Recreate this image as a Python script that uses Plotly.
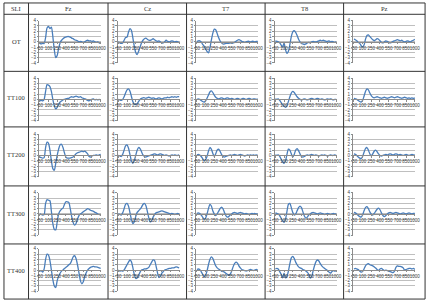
import plotly.graph_objects as go

# time axis (ms)
T = list(range(-50, 1001, 25))

ROWS = ["OT", "TT100", "TT200", "TT300", "TT400"]
COLS = ["Fz", "Cz", "T7", "T8", "Pz"]
CORNER = "SLI"
Y_TICKS = [-4, -3, -2, -1, 0, 1, 2, 3, 4]
X_TICKS = [-50, 100, 250, 400, 550, 700, 850, 1000]

OT_Fz = [-0.3, -0.4, -0.3, -0.3, 0.8, 2.6, 2.9, 2.5, 2.8, 1.0, -1.5, -3.0, -2.6, -1.2, -0.2, 0.3, 0.6, 0.8, 0.9, 1.0, 1.0, 0.9, 0.7, 0.6, 0.4, 0.3, 0.2, 0.0, 0.1, 0.0, -0.1, 0.0, 0.2, 0.3, 0.2, 0.2, 0.1, 0.2, 0.0, -0.1, 0.0, -0.2, -0.3]
OT_Cz = [0.0, -0.2, -0.3, -0.2, 0.3, 0.8, 0.9, 1.8, 2.5, 2.2, 0.8, -0.8, -2.0, -2.4, -1.8, -1.0, -0.2, 0.3, 0.6, 0.7, 0.5, 0.3, 0.3, 0.4, 0.6, 0.4, 0.2, 0.1, 0.2, 0.0, -0.2, -0.2, 0.0, 0.3, 0.1, 0.0, 0.1, 0.2, 0.1, 0.0, 0.1, 0.0, -0.1]
OT_T7 = [0.1, 0.2, 0.2, 0.0, -0.5, -0.8, -1.3, -1.8, -2.1, -1.2, 0.3, 1.6, 2.4, 2.3, 1.6, 0.8, 0.2, -0.2, -0.4, -0.4, -0.3, -0.3, -0.3, -0.2, -0.3, -0.2, -0.1, 0.1, 0.3, 0.4, 0.3, 0.1, 0.0, -0.1, 0.0, 0.1, 0.1, 0.0, 0.1, 0.1, 0.0, 0.1, 0.1]
OT_T8 = [0.2, 0.1, 0.0, -0.2, -0.6, -1.0, -0.2, -1.5, -2.2, -1.8, -0.5, 1.0, 1.9, 2.1, 1.8, 1.2, 0.5, 0.0, -0.3, -0.4, -0.5, -0.4, -0.2, -0.1, -0.2, 0.0, 0.1, 0.0, 0.0, 0.1, 0.2, 0.3, 0.2, 0.3, 0.2, 0.1, 0.1, 0.2, 0.0, 0.1, 0.0, -0.1, 0.0]
OT_Pz = [0.5, 0.4, 0.2, -0.1, -0.3, -0.7, -1.0, -0.6, 0.5, 1.2, 1.3, 1.0, 0.7, 0.4, 0.2, 0.4, 0.6, 0.5, 0.2, -0.1, -0.2, 0.0, 0.2, 0.1, -0.1, -0.2, -0.1, 0.1, 0.2, 0.3, 0.4, 0.3, 0.2, 0.3, 0.1, 0.0, 0.1, 0.2, 0.1, 0.0, 0.2, 0.3, 0.5]

TT100_Fz = [-0.3, -0.2, -0.3, 0.0, 1.5, 2.8, 2.7, 2.4, 1.5, 0.0, -1.2, -1.8, -1.5, -0.9, -0.5, -0.3, -0.1, 0.0, 0.1, 0.2, 0.2, 0.4, 0.5, 0.4, 0.5, 0.6, 0.5, 0.4, 0.5, 0.3, 0.2, 0.1, 0.0, -0.2, -0.3, -0.1, 0.0, 0.1, -0.1, 0.0, -0.1, 0.0, -0.1]
TT100_Cz = [0.0, -0.1, -0.2, 0.0, 0.5, 1.2, 1.8, 2.0, 1.6, 0.6, -0.4, -0.9, -1.0, -0.8, -0.4, 0.0, 0.2, 0.3, 0.3, 0.2, 0.3, 0.4, 0.3, 0.2, 0.3, 0.2, 0.1, 0.2, 0.3, 0.2, 0.1, 0.2, 0.3, 0.3, 0.4, 0.3, 0.4, 0.5, 0.4, 0.5, 0.4, 0.5, 0.5]
TT100_T7 = [0.0, 0.1, 0.0, -0.2, -0.4, -0.5, -0.3, 0.2, 0.8, 1.4, 1.6, 1.3, 0.8, 0.4, 0.2, 0.1, 0.2, 0.3, 0.2, 0.1, 0.2, 0.3, 0.2, 0.1, 0.2, 0.1, 0.0, 0.1, 0.2, 0.1, 0.0, 0.1, 0.2, 0.1, 0.0, 0.1, 0.2, 0.1, 0.0, 0.1, 0.1, 0.0, 0.1]
TT100_T8 = [0.1, 0.0, 0.1, -0.2, -0.6, -1.0, -1.3, -1.5, -1.2, -0.4, 0.5, 1.2, 1.5, 1.3, 0.9, 0.5, 0.2, 0.0, -0.1, 0.0, 0.1, 0.0, -0.1, 0.0, 0.1, 0.2, 0.1, 0.0, 0.1, 0.2, 0.1, 0.0, 0.1, 0.0, -0.1, 0.0, 0.1, 0.0, 0.1, 0.0, -0.1, 0.0, 0.0]
TT100_Pz = [0.2, 0.1, 0.0, -0.2, -0.4, -0.5, -0.2, 0.6, 1.5, 2.0, 1.8, 1.2, 0.7, 0.4, 0.3, 0.4, 0.5, 0.4, 0.3, 0.2, 0.3, 0.4, 0.3, 0.2, 0.3, 0.4, 0.5, 0.4, 0.3, 0.4, 0.5, 0.4, 0.3, 0.2, 0.3, 0.4, 0.3, 0.2, 0.3, 0.2, 0.3, 0.2, 0.3]

TT200_Fz = [-0.3, -0.4, -0.5, -0.4, 1.5, 2.5, 2.3, 1.0, -1.0, -2.5, -2.8, -1.5, 0.0, 1.2, 2.0, 2.1, 1.5, 0.5, -0.3, -0.5, -0.5, -0.5, -0.4, -0.3, 0.0, 0.3, 0.5, 0.6, 0.7, 0.8, 0.7, 0.8, 0.6, 0.3, -0.2, -0.3, -0.1, 0.0, 0.0, 0.1, 0.0, 0.1, 0.2]
TT200_Cz = [0.0, -0.1, -0.2, 0.2, 1.0, 1.8, 2.0, 1.4, 0.2, -1.0, -1.5, -1.0, 0.0, 1.0, 1.5, 1.3, 0.7, 0.1, -0.2, -0.3, -0.2, -0.1, 0.0, 0.1, 0.2, 0.3, 0.2, 0.1, 0.2, 0.3, 0.2, 0.1, 0.0, 0.1, 0.0, -0.1, 0.0, 0.1, 0.0, 0.1, 0.0, 0.0, 0.1]
TT200_T7 = [0.1, 0.2, 0.1, -0.2, -0.6, -1.0, -0.8, -0.2, 0.8, 1.5, 1.2, 0.4, -0.2, 0.3, 1.0, 1.2, 0.8, 0.2, -0.2, -0.3, -0.2, -0.1, 0.0, 0.1, 0.0, 0.1, 0.2, 0.1, 0.0, 0.1, 0.2, 0.1, 0.0, -0.1, 0.0, 0.1, 0.0, 0.1, 0.0, 0.1, 0.0, 0.1, 0.0]
TT200_T8 = [0.1, 0.0, 0.1, -0.2, -0.7, -1.2, -1.5, -1.0, 0.2, 1.2, 1.0, 0.3, -0.3, 0.2, 1.0, 1.3, 0.9, 0.3, -0.2, -0.3, -0.2, 0.0, 0.1, 0.0, 0.1, 0.2, 0.1, 0.0, 0.1, 0.0, -0.1, 0.0, 0.1, 0.0, 0.1, 0.0, -0.1, 0.0, 0.1, 0.0, 0.0, 0.1, 0.0]
TT200_Pz = [0.3, 0.2, 0.0, -0.3, -0.5, -0.6, -0.2, 0.6, 1.3, 1.5, 1.0, 0.3, -0.1, 0.3, 0.8, 1.0, 0.7, 0.3, 0.0, -0.1, 0.0, 0.1, 0.2, 0.1, 0.2, 0.3, 0.2, 0.1, 0.2, 0.3, 0.2, 0.1, 0.2, 0.1, 0.0, 0.1, 0.2, 0.1, 0.0, 0.1, 0.2, 0.1, 0.1]

TT300_Fz = [0.0, -0.1, -0.2, -0.1, 2.0, 2.7, 2.6, 2.5, 0.5, -1.8, -2.9, -3.0, -1.5, 0.0, 0.6, 0.9, 1.1, 1.8, 2.3, 2.3, 2.2, 1.0, -0.5, -1.6, -2.1, -1.8, -1.0, -0.3, 0.0, 0.2, 0.4, 0.6, 0.8, 1.0, 0.9, 0.7, 0.6, 0.5, 0.3, 0.2, 0.0, -0.1, -0.2]
TT300_Cz = [0.0, -0.1, -0.2, 0.2, 1.0, 1.8, 2.0, 1.5, 0.3, -1.0, -1.8, -1.5, -0.5, 0.3, 0.6, 0.9, 1.3, 1.8, 2.0, 1.6, 0.5, -0.7, -1.5, -1.3, -0.6, -0.1, 0.2, 0.3, 0.4, 0.5, 0.6, 0.5, 0.4, 0.3, 0.2, 0.1, 0.0, 0.1, 0.0, -0.1, 0.0, 0.1, 0.0]
TT300_T7 = [0.1, 0.2, 0.1, -0.2, -0.6, -1.0, -0.8, 0.0, 1.0, 1.8, 1.5, 0.6, 0.0, -0.3, 0.0, 0.5, 1.0, 1.3, 1.0, 0.3, -0.3, -0.6, -0.5, -0.2, 0.0, 0.2, 0.3, 0.2, 0.1, 0.2, 0.3, 0.2, 0.1, 0.0, 0.1, 0.0, -0.1, 0.0, 0.1, 0.0, 0.1, 0.0, 0.0]
TT300_T8 = [0.2, 0.1, 0.0, -0.3, -0.8, -1.3, -1.6, -1.0, 0.5, 1.8, 2.0, 1.2, 0.3, -0.2, 0.0, 0.6, 1.2, 1.5, 1.2, 0.4, -0.4, -0.8, -0.6, -0.2, 0.0, 0.2, 0.3, 0.2, 0.1, 0.0, 0.1, 0.2, 0.1, 0.0, -0.1, 0.0, 0.1, 0.0, -0.1, 0.0, 0.1, 0.0, 0.0]
TT300_Pz = [0.3, 0.2, 0.0, -0.3, -0.5, -0.6, -0.2, 0.6, 1.2, 1.4, 1.0, 0.4, 0.0, -0.2, 0.1, 0.5, 0.9, 1.1, 0.8, 0.2, -0.3, -0.5, -0.3, 0.0, 0.2, 0.3, 0.2, 0.1, 0.2, 0.3, 0.2, 0.1, 0.0, 0.1, 0.2, 0.1, 0.0, 0.1, 0.2, 0.1, 0.0, 0.1, 0.1]

TT400_Fz = [-0.2, -0.1, -0.4, 0.2, 2.0, 3.0, 2.8, 1.8, 0.0, -1.8, -3.0, -3.3, -2.0, -1.2, -0.6, -0.2, 0.0, 0.3, 0.5, 0.7, 1.0, 1.2, 1.8, 2.5, 2.7, 2.2, 1.0, -0.5, -2.0, -2.6, -2.2, -1.2, -0.5, 0.0, 0.3, 0.5, 0.6, 0.7, 0.6, 0.6, 0.5, 0.4, 0.3]
TT400_Cz = [0.0, -0.2, -0.1, -0.2, 0.0, 0.5, 1.0, 1.5, 1.9, 1.6, 0.5, -0.8, -1.6, -1.5, -1.0, -0.4, 0.0, 0.1, 0.2, 0.2, 0.3, 0.5, 1.0, 1.5, 1.9, 1.8, 0.8, -0.5, -1.4, -1.2, -0.6, -0.3, 0.0, 0.1, 0.2, 0.3, 0.3, 0.4, 0.4, 0.5, 0.6, 0.5, 0.4]
TT400_T7 = [0.1, 0.2, 0.1, -0.3, -0.8, -1.3, -1.0, -0.2, 1.0, 2.0, 2.5, 2.2, 1.5, 0.8, 0.4, 0.2, 0.0, -0.2, -0.3, -0.4, -0.6, -0.8, -1.0, -0.8, -0.2, 0.6, 1.2, 1.5, 1.3, 0.8, 0.4, 0.1, 0.0, -0.1, -0.2, -0.1, 0.0, 0.1, 0.0, -0.1, 0.0, 0.1, 0.0]
TT400_T8 = [0.2, 0.3, 0.2, -0.3, -0.8, -1.5, -0.6, -1.5, -1.2, -0.2, 1.2, 2.3, 2.6, 2.2, 1.5, 1.0, 0.6, 0.4, 0.3, 0.1, 0.0, -0.2, -0.4, -0.8, -1.5, -1.3, -0.2, 0.8, 1.6, 1.9, 1.7, 1.2, 0.8, 0.5, 0.3, 0.1, -0.1, -0.4, -0.6, -0.3, -0.1, -0.2, -0.1]
TT400_Pz = [0.2, 0.3, 0.2, 0.1, -0.2, -0.4, -0.3, 0.2, 0.8, 1.1, 1.2, 1.0, 0.9, 0.8, 0.6, 0.4, 0.1, -0.1, 0.2, 0.3, 0.1, -0.1, 0.0, -0.1, -0.2, -0.3, -0.4, -0.5, -0.2, 0.5, 0.8, 0.7, 0.7, 0.6, 0.4, 0.0, 0.1, 0.2, 0.3, 0.3, 0.2, 0.3, 0.1]

DATA = [
    [OT_Fz, OT_Cz, OT_T7, OT_T8, OT_Pz],
    [TT100_Fz, TT100_Cz, TT100_T7, TT100_T8, TT100_Pz],
    [TT200_Fz, TT200_Cz, TT200_T7, TT200_T8, TT200_Pz],
    [TT300_Fz, TT300_Cz, TT300_T7, TT300_T8, TT300_Pz],
    [TT400_Fz, TT400_Cz, TT400_T7, TT400_T8, TT400_Pz],
]

# ---- layout geometry (pixels) ----
W, H = 434, 305
COL_LEFT = [37, 117, 197, 277, 357]
PLOT_W = 63
ROW_TOP = [19, 77.5, 134.5, 194, 251]
PLOT_H = 43
H_LINES = [1, 12.5, 70.5, 127, 187, 246, 302]
V_LINES = [1, 26, 107, 187, 267, 347, 430]

LINE_COLOR = "#4A7EBB"
GRID = "#BFBFBF"
AXIS = "#8C8C8C"
TICKFONT = dict(family="Liberation Sans", size=4.5, color="#404040")

fig = go.Figure()
layout = {}
for r in range(5):
    for c in range(5):
        k = r * 5 + c + 1
        sfx = "" if k == 1 else str(k)
        fig.add_trace(go.Scatter(
            x=T, y=DATA[r][c], mode="lines",
            line=dict(color=LINE_COLOR, width=1.3, shape="spline", smoothing=0.7),
            xaxis="x" + sfx, yaxis="y" + sfx, hoverinfo="skip", showlegend=False))
        left = COL_LEFT[c]
        top = ROW_TOP[r]
        layout["xaxis" + sfx] = dict(
            domain=[left / W, (left + PLOT_W) / W],
            anchor="free", position=1 - (top + PLOT_H / 2) / H,
            range=[-58, 1008], tickmode="array", tickvals=X_TICKS,
            ticktext=[str(v) for v in X_TICKS], tickangle=0, tickfont=TICKFONT,
            showline=True, linecolor=AXIS, linewidth=0.8,
            ticks="outside", ticklen=1.5, tickcolor=AXIS, tickwidth=0.6,
            showgrid=False, zeroline=False, fixedrange=True)
        layout["yaxis" + sfx] = dict(
            domain=[1 - (top + PLOT_H) / H, 1 - top / H],
            anchor="x" + sfx, range=[-4, 4], tickmode="array", tickvals=Y_TICKS,
            tickfont=TICKFONT, showline=True, linecolor=AXIS, linewidth=0.8,
            ticks="outside", ticklen=1.5, tickcolor=AXIS, tickwidth=0.6,
            showgrid=True, gridcolor=GRID, gridwidth=0.7, zeroline=False,
            fixedrange=True)

shapes = []
for y in H_LINES:
    shapes.append(dict(type="line", xref="paper", yref="paper",
                       x0=V_LINES[0] / W, x1=V_LINES[-1] / W, y0=1 - y / H, y1=1 - y / H,
                       line=dict(color="#333333", width=1)))
for x in V_LINES:
    shapes.append(dict(type="line", xref="paper", yref="paper",
                       x0=x / W, x1=x / W, y0=1 - H_LINES[0] / H, y1=1 - H_LINES[-1] / H,
                       line=dict(color="#333333", width=1)))

annotations = []
TXT = dict(family="Liberation Serif", size=6.5, color="#333333")
hy = (H_LINES[0] + H_LINES[1]) / 2
headers = [CORNER] + COLS
for i, name in enumerate(headers):
    cx = (V_LINES[i] + V_LINES[i + 1]) / 2
    annotations.append(dict(text=name, x=cx / W, y=1 - hy / H, xref="paper", yref="paper",
                            showarrow=False, font=TXT, xanchor="center", yanchor="middle"))
for r, name in enumerate(ROWS):
    cy = (H_LINES[r + 1] + H_LINES[r + 2]) / 2 - 1.5
    cx = (V_LINES[0] + V_LINES[1]) / 2
    annotations.append(dict(text=name, x=cx / W, y=1 - cy / H, xref="paper", yref="paper",
                            showarrow=False, font=TXT, xanchor="center", yanchor="middle"))

fig.update_layout(width=W, height=H, autosize=False,
                  margin=dict(l=0, r=0, t=0, b=0),
                  paper_bgcolor="white", plot_bgcolor="white",
                  shapes=shapes, annotations=annotations, hovermode=False,
                  showlegend=False, **layout)
fig.write_html("out.html", config={"displayModeBar": False})
